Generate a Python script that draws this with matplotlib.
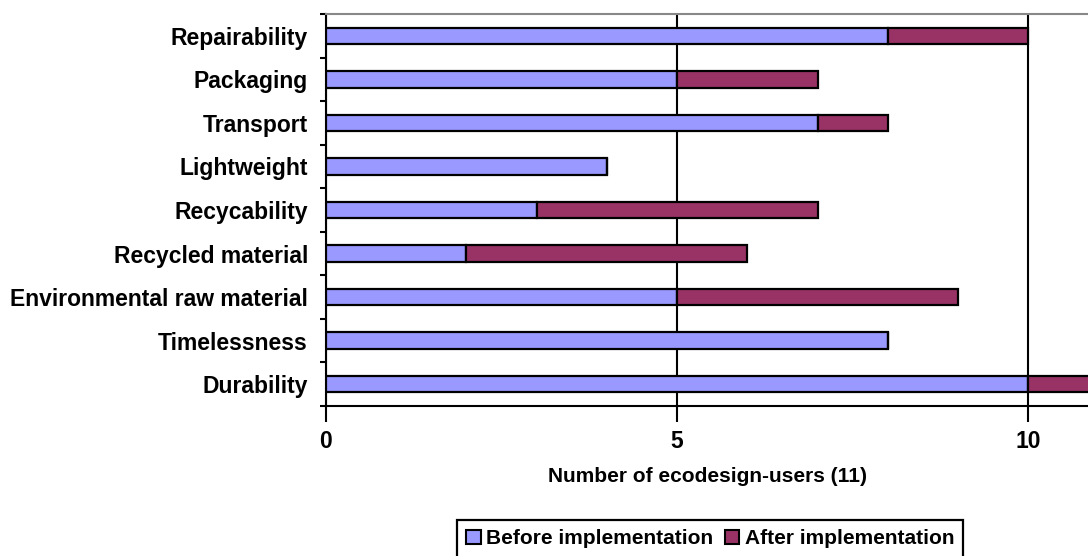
import matplotlib
matplotlib.use("Agg")
import matplotlib.pyplot as plt
import numpy as np
from matplotlib.patches import Patch

plt.rcParams['font.family'] = ['Liberation Sans', 'DejaVu Sans']
plt.rcParams['font.weight'] = 'bold'

categories = ["Durability", "Timelessness", "Environmental raw material",
              "Recycled material", "Recycability", "Lightweight",
              "Transport", "Packaging", "Repairability"]
before = [10, 8, 5, 2, 3, 4, 7, 5, 8]
after = [1, 0, 4, 4, 4, 0, 1, 2, 2]
series_labels = ["Before implementation", "After implementation"]
x_ticks = [0, 5, 10]
x_label = "Number of ecodesign-users (11)"

c_before = "#9999FF"
c_after = "#993366"

W, H = 1088, 556
fig = plt.figure(figsize=(W / 100, H / 100), dpi=100)
ax = fig.add_axes([326 / W, 1 - 406 / H, 1 - 326 / W, (406 - 14) / H])

y = np.arange(len(categories))
bh = 0.38
ax.barh(y, before, height=bh, color=c_before, edgecolor="black", linewidth=1.6, zorder=3)
ax.barh(y, after, left=before, height=bh, color=c_after, edgecolor="black", linewidth=1.6, zorder=3)

ax.set_xlim(0, 10.85)
ax.set_ylim(-0.5, len(categories) - 0.5)

ax.set_yticks(y)
ax.set_yticklabels(categories, fontsize=16.5, fontweight="bold")
ax.tick_params(axis="y", length=0, pad=13)
ax.set_yticks(np.arange(-0.5, len(categories), 1), minor=True)
ax.tick_params(axis="y", which="minor", length=4.5, width=1.5, direction="out")

ax.set_xticks(x_ticks)
ax.set_xticklabels([str(t) for t in x_ticks], fontsize=16.5, fontweight="bold")
ax.tick_params(axis="x", length=11.5, width=1.5, direction="out", pad=6)
ax.xaxis.grid(True, color="black", linewidth=1.5, zorder=0)
ax.set_axisbelow(True)

ax.set_xlabel(x_label, fontsize=15, fontweight="bold", labelpad=10)

for s in ["left", "bottom"]:
    ax.spines[s].set_linewidth(1.5)
    ax.spines[s].set_color("black")
ax.spines["top"].set_color("#888888")
ax.spines["top"].set_linewidth(1.5)
ax.spines["right"].set_visible(False)

handles = [Patch(facecolor=c_before, edgecolor="black", linewidth=1.5),
           Patch(facecolor=c_after, edgecolor="black", linewidth=1.5)]
leg = fig.legend(handles, series_labels, ncol=2, loc="upper left",
                 bbox_to_anchor=(457 / W, 1 - 520 / H),
                 frameon=True, fancybox=False, edgecolor="black", framealpha=1,
                 prop={"weight": "bold", "size": 15},
                 handlelength=0.7, handleheight=0.7, handletextpad=0.25,
                 columnspacing=0.55, borderpad=0.45, borderaxespad=0)
leg.get_frame().set_linewidth(1.6)

fig.savefig("out.png", dpi=100)
